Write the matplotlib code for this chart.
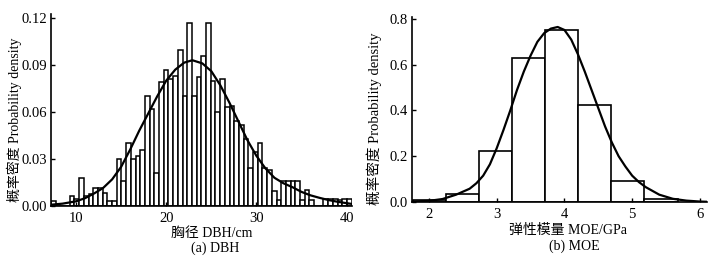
import numpy as np
import matplotlib
matplotlib.use("Agg")
import matplotlib.pyplot as plt
from matplotlib.ticker import FormatStrFormatter

plt.rcParams['font.family'] = ['Liberation Serif', 'Noto Sans CJK SC']

# ---------------- (a) DBH ----------------
dbh_bin_start = 7.22
dbh_bin_width = 0.521
dbh_density = [
    0.0035, 0.0, 0.0, 0.0, 0.0063, 0.0045, 0.018, 0.0065, 0.0075, 0.0112,
    0.0112, 0.0083, 0.0035, 0.0035, 0.0297, 0.016, 0.040, 0.030, 0.032, 0.036,
    0.070, 0.062, 0.021, 0.079, 0.087, 0.081, 0.083, 0.0995, 0.070, 0.117,
    0.070, 0.082, 0.096, 0.117, 0.080, 0.060, 0.081, 0.063, 0.064, 0.0545,
    0.0516, 0.043, 0.024, 0.0345, 0.040, 0.024, 0.023, 0.0095, 0.004, 0.016,
    0.016, 0.016, 0.016, 0.004, 0.0105, 0.004, 0.0, 0.0, 0.0045, 0.0045,
    0.0045, 0.004, 0.0045, 0.0045,
]
dbh_curve_x = [7.2, 8.5, 10, 11, 12, 13, 14, 15, 16, 17, 18, 19, 20, 21, 22, 22.9,
               24, 25, 26, 27, 28, 29, 30, 31, 32, 33, 34, 35, 36, 37, 38, 39, 40, 40.6]
dbh_curve_y = [0.0008, 0.0015, 0.003, 0.005, 0.008, 0.0115, 0.017, 0.025, 0.036, 0.048,
               0.059, 0.070, 0.080, 0.087, 0.0915, 0.093, 0.091, 0.086, 0.077, 0.066,
               0.054, 0.042, 0.032, 0.024, 0.018, 0.0145, 0.012, 0.009, 0.0068, 0.0052,
               0.0038, 0.0027, 0.0018, 0.0013]
dbh_xticks = [10, 20, 30, 40]
dbh_yticks = [0.00, 0.03, 0.06, 0.09, 0.12]

# ---------------- (b) MOE ----------------
moe_bin_edges = [1.76, 2.249, 2.737, 3.226, 3.715, 4.204, 4.692, 5.181, 5.67]
moe_density = [0.010, 0.037, 0.225, 0.628, 0.752, 0.423, 0.092, 0.013]
moe_curve_x = [1.75, 2.0, 2.2, 2.4, 2.6, 2.7, 2.8, 2.9, 3.0, 3.1, 3.2, 3.3, 3.4, 3.5,
               3.6, 3.7, 3.8, 3.9, 4.0, 4.1, 4.2, 4.3, 4.4, 4.5, 4.6, 4.7, 4.8, 4.9,
               5.0, 5.1, 5.2, 5.4, 5.6, 5.8, 6.0, 6.1]
moe_curve_y = [0.002, 0.005, 0.013, 0.032, 0.058, 0.082, 0.115, 0.165, 0.235, 0.315,
               0.40, 0.49, 0.57, 0.64, 0.70, 0.738, 0.758, 0.765, 0.752, 0.71, 0.645,
               0.57, 0.49, 0.41, 0.33, 0.26, 0.20, 0.155, 0.115, 0.087, 0.065, 0.032,
               0.014, 0.006, 0.002, 0.001]
moe_xticks = [2, 3, 4, 5, 6]
moe_yticks = [0.0, 0.2, 0.4, 0.6, 0.8]

W, H = 720, 258
fig = plt.figure(figsize=(W / 100, H / 100), dpi=100)


def frac(x0, y0, x1, y1):
    return [x0 / W, 1 - y1 / H, (x1 - x0) / W, (y1 - y0) / H]


def style(ax):
    for s in ('top', 'right'):
        ax.spines[s].set_visible(False)
    for s in ('left', 'bottom'):
        ax.spines[s].set_linewidth(1.2)
    ax.tick_params(direction='in', length=3, width=1, labelsize=10.5, pad=3)
    ax.tick_params(axis='x', pad=4)


# Left panel
ax1 = fig.add_axes(frac(51, 14, 352, 206))
edges = [dbh_bin_start + i * dbh_bin_width for i in range(len(dbh_density))]
ax1.bar(edges, dbh_density, width=dbh_bin_width, align='edge',
        facecolor='white', edgecolor='black', linewidth=1.1)
ax1.plot(dbh_curve_x, dbh_curve_y, color='black', linewidth=1.6)
ax1.set_xlim(7.22, 40.6)
ax1.set_ylim(0, 0.1225)
ax1.set_xticks(dbh_xticks)
ax1.set_yticks(dbh_yticks)
ax1.yaxis.set_major_formatter(FormatStrFormatter('%.2f'))
style(ax1)
ax1.set_ylabel('概率密度 Probability density', fontsize=10)
ax1.yaxis.set_label_coords(-0.095, 0.45)

# Right panel
ax2 = fig.add_axes(frac(411.7, 16.7, 706.7, 202))
ax2.bar(moe_bin_edges[:-1], moe_density, width=np.diff(moe_bin_edges), align='edge',
        facecolor='white', edgecolor='black', linewidth=1.2)
ax2.plot(moe_curve_x, moe_curve_y, color='black', linewidth=1.6)
ax2.set_xlim(1.745, 6.1)
ax2.set_ylim(0, 0.81)
ax2.set_xticks(moe_xticks)
ax2.set_yticks(moe_yticks)
ax2.yaxis.set_major_formatter(FormatStrFormatter('%.1f'))
style(ax2)
ax2.set_ylabel('概率密度 Probability density', fontsize=10.5)
ax2.yaxis.set_label_coords(-0.1, 0.45)

fig.text(212 / W, 1 - 233 / H, '胸径 DBH/cm', ha='center', va='center', fontsize=10)
fig.text(215 / W, 1 - 248 / H, '(a) DBH', ha='center', va='center', fontsize=10)
fig.text(568 / W, 1 - 230 / H, '弹性模量 MOE/GPa', ha='center', va='center', fontsize=10)
fig.text(574 / W, 1 - 246.5 / H, '(b) MOE', ha='center', va='center', fontsize=10)

fig.savefig('out.png', dpi=100, facecolor='white')
